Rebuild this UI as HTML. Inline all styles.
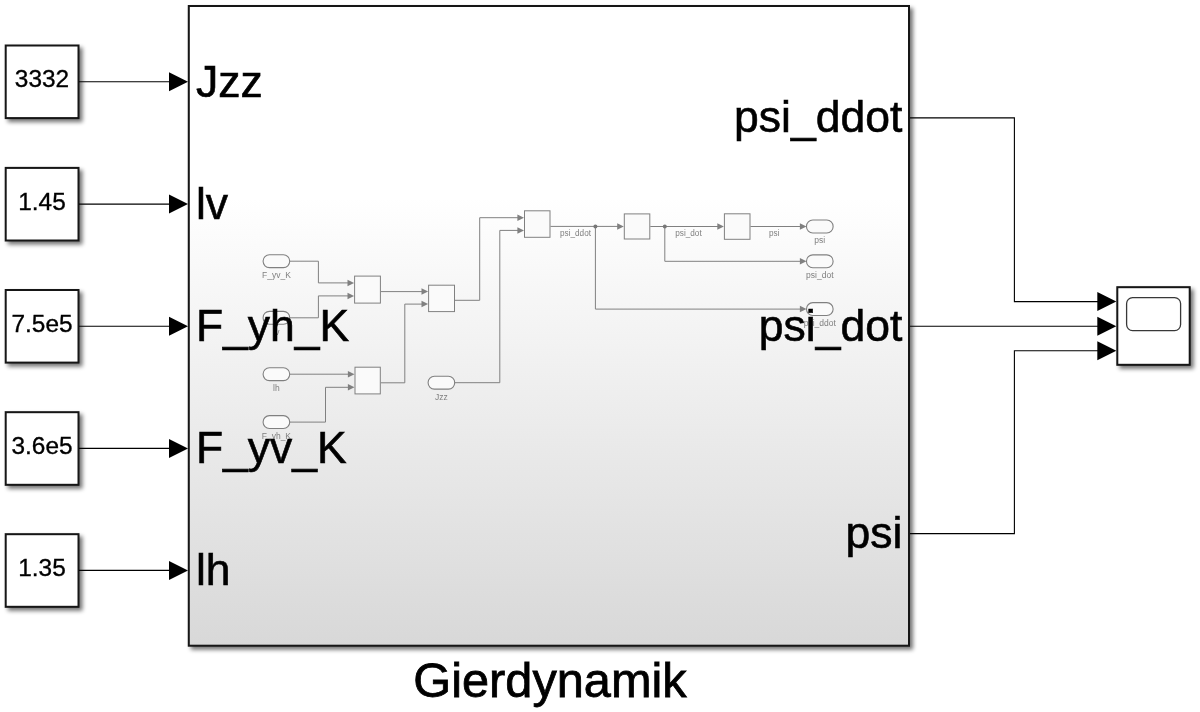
<!DOCTYPE html>
<html><head><meta charset="utf-8"><style>
html,body{margin:0;padding:0;background:#fff;width:1200px;height:712px;overflow:hidden}
svg{display:block}
text{will-change:transform}
text{font-family:'Liberation Sans',sans-serif}
</style></head><body>
<svg width="1200" height="712" viewBox="0 0 1200 712">
<defs>
<linearGradient id="g" x1="0" y1="0" x2="0" y2="1">
<stop offset="0" stop-color="#ffffff"/>
<stop offset="0.30" stop-color="#ffffff"/>
<stop offset="1" stop-color="#d8d8d8"/>
</linearGradient>
<filter id="sh" x="-10%" y="-10%" width="130%" height="130%">
<feGaussianBlur in="SourceAlpha" stdDeviation="2.1"/>
<feOffset dx="2.6" dy="2.6" result="b"/>
<feComponentTransfer><feFuncA type="linear" slope="0.55"/></feComponentTransfer>
<feMerge><feMergeNode/><feMergeNode in="SourceGraphic"/></feMerge>
</filter>
</defs>

<rect x="5.7" y="45.50" width="72.8" height="72.6" fill="#fff" stroke="#141414" stroke-width="2" filter="url(#sh)"/>
<text x="42" y="87.10" font-size="24.4" text-anchor="middle" fill="#000" stroke="#000" stroke-width="0.35">3332</text>
<line x1="79" y1="81.70" x2="170" y2="81.70" stroke="#000" stroke-width="1.1"/>
<polygon points="169.00,72.20 188.00,81.70 169.00,91.20" fill="#000"/>
<rect x="5.7" y="167.90" width="72.8" height="72.6" fill="#fff" stroke="#141414" stroke-width="2" filter="url(#sh)"/>
<text x="42" y="209.50" font-size="24.4" text-anchor="middle" fill="#000" stroke="#000" stroke-width="0.35">1.45</text>
<line x1="79" y1="204.10" x2="170" y2="204.10" stroke="#000" stroke-width="1.1"/>
<polygon points="169.00,194.60 188.00,204.10 169.00,213.60" fill="#000"/>
<rect x="5.7" y="290.00" width="72.8" height="72.6" fill="#fff" stroke="#141414" stroke-width="2" filter="url(#sh)"/>
<text x="42" y="331.60" font-size="24.4" text-anchor="middle" fill="#000" stroke="#000" stroke-width="0.35">7.5e5</text>
<line x1="79" y1="326.20" x2="170" y2="326.20" stroke="#000" stroke-width="1.1"/>
<polygon points="169.00,316.70 188.00,326.20 169.00,335.70" fill="#000"/>
<rect x="5.7" y="412.20" width="72.8" height="72.6" fill="#fff" stroke="#141414" stroke-width="2" filter="url(#sh)"/>
<text x="42" y="453.80" font-size="24.4" text-anchor="middle" fill="#000" stroke="#000" stroke-width="0.35">3.6e5</text>
<line x1="79" y1="448.40" x2="170" y2="448.40" stroke="#000" stroke-width="1.1"/>
<polygon points="169.00,438.90 188.00,448.40 169.00,457.90" fill="#000"/>
<rect x="5.7" y="534.20" width="72.8" height="72.6" fill="#fff" stroke="#141414" stroke-width="2" filter="url(#sh)"/>
<text x="42" y="575.80" font-size="24.4" text-anchor="middle" fill="#000" stroke="#000" stroke-width="0.35">1.35</text>
<line x1="79" y1="570.40" x2="170" y2="570.40" stroke="#000" stroke-width="1.1"/>
<polygon points="169.00,560.90 188.00,570.40 169.00,579.90" fill="#000"/>
<rect x="188.8" y="6" width="720.2" height="639.7" fill="url(#g)" stroke="#141414" stroke-width="2" filter="url(#sh)"/>
<polyline points="910,117.9 1014.4,117.9 1014.4,301.6 1098,301.6" fill="none" stroke="#000" stroke-width="1.1"/>
<polyline points="910,326.2 1098,326.2" fill="none" stroke="#000" stroke-width="1.1"/>
<polyline points="910,533.6 1014.4,533.6 1014.4,350.8 1098,350.8" fill="none" stroke="#000" stroke-width="1.1"/>
<polygon points="1097.30,292.10 1116.30,301.60 1097.30,311.10" fill="#000"/>
<polygon points="1097.30,316.70 1116.30,326.20 1097.30,335.70" fill="#000"/>
<polygon points="1097.30,341.30 1116.30,350.80 1097.30,360.30" fill="#000"/>
<rect x="1117.3" y="287.2" width="72.4" height="77.6" fill="#fff" stroke="#141414" stroke-width="2" filter="url(#sh)"/>
<rect x="1126.6" y="297.6" width="54" height="33" rx="6" fill="none" stroke="#383838" stroke-width="1.3"/>
<rect x="263.10" y="254.75" width="26.6" height="12.9" rx="6.2" fill="#fafafa"/>
<rect x="263.10" y="311.35" width="26.6" height="12.9" rx="6.2" fill="#fafafa"/>
<rect x="263.10" y="367.75" width="26.6" height="12.9" rx="6.2" fill="#fafafa"/>
<rect x="263.10" y="415.65" width="26.6" height="12.9" rx="6.2" fill="#fafafa"/>
<rect x="428.10" y="376.25" width="26.6" height="12.9" rx="6.2" fill="#fafafa"/>
<rect x="806.50" y="220.05" width="26.6" height="12.9" rx="6.2" fill="#fafafa"/>
<rect x="806.50" y="254.85" width="26.6" height="12.9" rx="6.2" fill="#fafafa"/>
<rect x="806.50" y="302.65" width="26.6" height="12.9" rx="6.2" fill="#fafafa"/>
<rect x="354.60" y="276.10" width="25.80" height="27.00" fill="#fafafa" stroke="#808080" stroke-width="1.0"/>
<rect x="428.60" y="285.20" width="25.90" height="26.40" fill="#fafafa" stroke="#808080" stroke-width="1.0"/>
<rect x="355.00" y="367.20" width="25.30" height="26.70" fill="#fafafa" stroke="#808080" stroke-width="1.0"/>
<rect x="524.50" y="210.80" width="25.50" height="26.50" fill="#fafafa" stroke="#808080" stroke-width="1.0"/>
<rect x="624.30" y="213.90" width="25.50" height="25.10" fill="#fafafa" stroke="#808080" stroke-width="1.0"/>
<rect x="724.40" y="213.80" width="25.60" height="25.50" fill="#fafafa" stroke="#808080" stroke-width="1.0"/>
<rect x="263.10" y="254.75" width="26.6" height="12.9" rx="6.3" fill="none" stroke="#808080" stroke-width="1.1"/>
<text x="276.40" y="278.10" font-size="8.5" text-anchor="middle" fill="#7f7f7f">F_yv_K</text>
<rect x="263.10" y="311.35" width="26.6" height="12.9" rx="6.3" fill="none" stroke="#808080" stroke-width="1.1"/>
<text x="276.40" y="334.70" font-size="8.5" text-anchor="middle" fill="#7f7f7f">lv</text>
<rect x="263.10" y="367.75" width="26.6" height="12.9" rx="6.3" fill="none" stroke="#808080" stroke-width="1.1"/>
<text x="276.40" y="391.10" font-size="8.5" text-anchor="middle" fill="#7f7f7f">lh</text>
<rect x="263.10" y="415.65" width="26.6" height="12.9" rx="6.3" fill="none" stroke="#808080" stroke-width="1.1"/>
<text x="276.40" y="439.00" font-size="8.5" text-anchor="middle" fill="#7f7f7f">F_yh_K</text>
<rect x="428.10" y="376.25" width="26.6" height="12.9" rx="6.3" fill="none" stroke="#808080" stroke-width="1.1"/>
<text x="441.40" y="399.60" font-size="8.5" text-anchor="middle" fill="#7f7f7f">Jzz</text>
<rect x="806.50" y="220.05" width="26.6" height="12.9" rx="6.3" fill="none" stroke="#808080" stroke-width="1.1"/>
<text x="819.80" y="243.40" font-size="8.5" text-anchor="middle" fill="#7f7f7f">psi</text>
<rect x="806.50" y="254.85" width="26.6" height="12.9" rx="6.3" fill="none" stroke="#808080" stroke-width="1.1"/>
<text x="819.80" y="278.20" font-size="8.5" text-anchor="middle" fill="#7f7f7f">psi_dot</text>
<rect x="806.50" y="302.65" width="26.6" height="12.9" rx="6.3" fill="none" stroke="#808080" stroke-width="1.1"/>
<text x="819.80" y="326.00" font-size="8.5" text-anchor="middle" fill="#7f7f7f">psi_ddot</text>
<polyline points="289.70,261.20 318.40,261.20 318.40,282.90 348.00,282.90" fill="none" stroke="#808080" stroke-width="1.0"/>
<polyline points="289.70,317.80 318.40,317.80 318.40,295.90 348.00,295.90" fill="none" stroke="#808080" stroke-width="1.0"/>
<polyline points="381.00,291.60 422.50,291.60" fill="none" stroke="#808080" stroke-width="1.0"/>
<polyline points="380.80,382.80 404.80,382.80 404.80,304.10 422.50,304.10" fill="none" stroke="#808080" stroke-width="1.0"/>
<polyline points="289.70,374.20 348.50,374.20" fill="none" stroke="#808080" stroke-width="1.0"/>
<polyline points="289.70,422.10 325.50,422.10 325.50,387.30 348.50,387.30" fill="none" stroke="#808080" stroke-width="1.0"/>
<polyline points="455.00,300.30 479.70,300.30 479.70,217.70 518.00,217.70" fill="none" stroke="#808080" stroke-width="1.0"/>
<polyline points="454.70,382.70 499.80,382.70 499.80,230.40 518.00,230.40" fill="none" stroke="#808080" stroke-width="1.0"/>
<polyline points="550.50,226.40 618.00,226.40" fill="none" stroke="#808080" stroke-width="1.0"/>
<polyline points="595.40,226.40 595.40,309.10 800.50,309.10" fill="none" stroke="#808080" stroke-width="1.0"/>
<polyline points="650.30,226.50 718.00,226.50" fill="none" stroke="#808080" stroke-width="1.0"/>
<polyline points="664.80,226.50 664.80,261.30 800.50,261.30" fill="none" stroke="#808080" stroke-width="1.0"/>
<polyline points="750.50,226.50 800.50,226.50" fill="none" stroke="#808080" stroke-width="1.0"/>
<polygon points="347.50,279.65 354.10,282.90 347.50,286.15" fill="#808080"/>
<polygon points="347.50,292.65 354.10,295.90 347.50,299.15" fill="#808080"/>
<polygon points="421.50,288.35 428.10,291.60 421.50,294.85" fill="#808080"/>
<polygon points="421.50,300.85 428.10,304.10 421.50,307.35" fill="#808080"/>
<polygon points="347.90,370.95 354.50,374.20 347.90,377.45" fill="#808080"/>
<polygon points="347.90,384.05 354.50,387.30 347.90,390.55" fill="#808080"/>
<polygon points="517.40,214.45 524.00,217.70 517.40,220.95" fill="#808080"/>
<polygon points="517.40,227.15 524.00,230.40 517.40,233.65" fill="#808080"/>
<polygon points="617.20,223.15 623.80,226.40 617.20,229.65" fill="#808080"/>
<polygon points="717.30,223.25 723.90,226.50 717.30,229.75" fill="#808080"/>
<polygon points="799.90,223.25 806.50,226.50 799.90,229.75" fill="#808080"/>
<polygon points="799.90,258.05 806.50,261.30 799.90,264.55" fill="#808080"/>
<polygon points="799.90,305.85 806.50,309.10 799.90,312.35" fill="#808080"/>
<circle cx="595.4" cy="226.4" r="2" fill="#777"/>
<circle cx="664.8" cy="226.5" r="2" fill="#777"/>
<text x="560" y="235.8" font-size="8.2" fill="#7f7f7f">psi_ddot</text>
<text x="675.3" y="235.9" font-size="8.2" fill="#7f7f7f">psi_dot</text>
<text x="769" y="235.9" font-size="8.2" fill="#7f7f7f">psi</text>
<text x="195.9" y="96.70" font-size="44.5" fill="#000" stroke="#000" stroke-width="0.6">Jzz</text>
<text x="195.9" y="219.10" font-size="44.5" fill="#000" stroke="#000" stroke-width="0.6">lv</text>
<text x="195.9" y="341.20" font-size="44.5" fill="#000" stroke="#000" stroke-width="0.6">F_yh_K</text>
<text x="195.9" y="463.40" font-size="44.5" fill="#000" stroke="#000" stroke-width="0.6">F_yv_K</text>
<text x="195.9" y="585.40" font-size="44.5" fill="#000" stroke="#000" stroke-width="0.6">lh</text>
<text x="902.3" y="132.30" font-size="44.5" text-anchor="end" fill="#000" stroke="#000" stroke-width="0.6">psi_ddot</text>
<text x="902.3" y="340.60" font-size="44.5" text-anchor="end" fill="#000" stroke="#000" stroke-width="0.6">psi_dot</text>
<text x="902.3" y="548.00" font-size="44.5" text-anchor="end" fill="#000" stroke="#000" stroke-width="0.6">psi</text>
<text x="550" y="697" font-size="48.7" text-anchor="middle" fill="#000" stroke="#000" stroke-width="0.8">Gierdynamik</text>
</svg></body></html>
